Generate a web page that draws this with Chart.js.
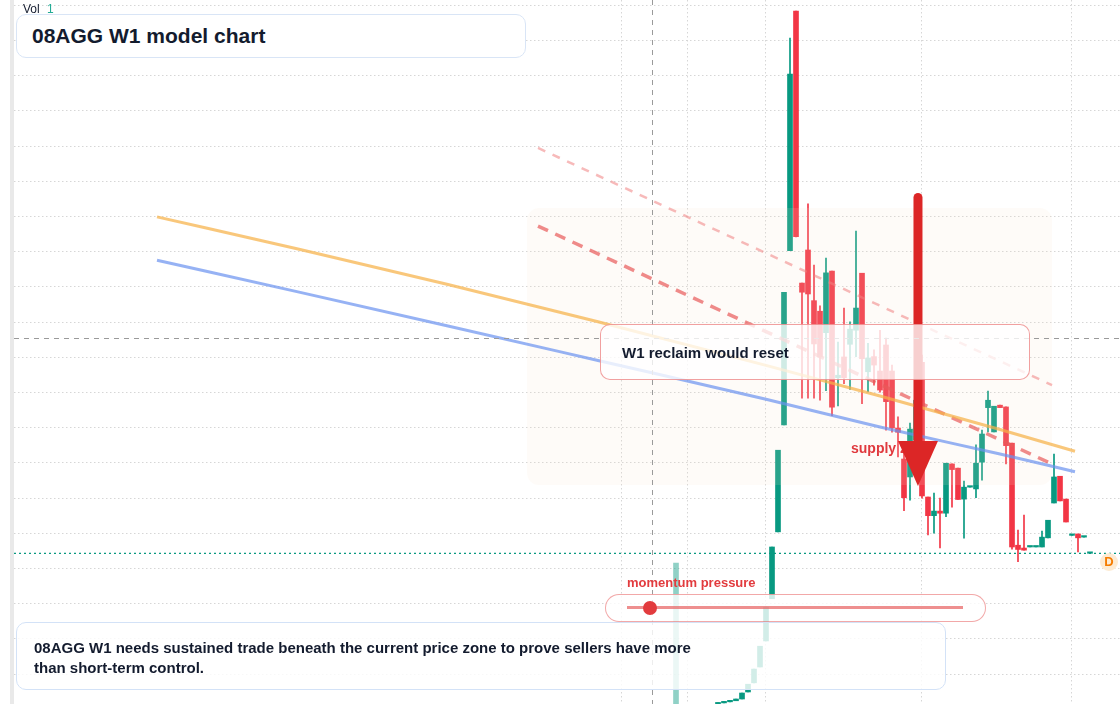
<!DOCTYPE html>
<html>
<head>
<meta charset="utf-8">
<title>08AGG W1 model chart</title>
<script src="https://cdn.jsdelivr.net/npm/chart.js@4.4.1/dist/chart.umd.min.js"></script>
<style>
    html, body { margin: 0; padding: 0; background: #fff; }
    body {
        width: 1120px; height: 704px; overflow: hidden; position: relative;
        font-family: "Liberation Sans", Arial, sans-serif; color: #131b2e;
    }
    #chart { position: absolute; left: 0; top: 0; }
    .strip { position: absolute; left: 10px; top: 0; width: 4px; height: 704px; background: #e9e9e9; }
    .abs { position: absolute; white-space: nowrap; }
    .card { position: absolute; box-sizing: border-box; border-radius: 10px; }
    .title-card { left: 16px; top: 14px; width: 510px; height: 44px; background: #fff; border: 1.5px solid #d9e5f6; }
    .note-card { left: 16px; top: 622px; width: 930px; height: 68px; background: rgba(255,255,255,0.82); border: 1.5px solid #d3e2f7; }
    .reclaim-card { left: 600px; top: 324px; width: 430px; height: 56px; background: rgba(255,255,255,0.78); border: 1.5px solid rgba(232,96,96,0.6); }
    .pill { left: 605px; top: 594px; width: 381px; height: 28px; border-radius: 14px; background: rgba(255,255,255,0.8); border: 1.5px solid rgba(232,96,96,0.55); }
    .pill-track { position: absolute; left: 627px; top: 606px; width: 336px; height: 3px; background: rgba(232,100,100,0.72); }
    .pill-dot { position: absolute; left: 643px; top: 601px; width: 14px; height: 14px; border-radius: 50%; background: #e23b3e; }
    .badge { position: absolute; left: 1100px; top: 553px; width: 18px; height: 18px; border-radius: 50%; background: #fdebd3;
             color: #f57c00; font-weight: bold; font-size: 13px; line-height: 18px; text-align: center; }
</style>
</head>
<body>
<div class="strip"></div>
<canvas id="chart" width="1120" height="704"></canvas>

<div class="abs" style="left:23px; top:1.5px; font-size:12px; line-height:14px;">Vol <span style="color:#22ab94; margin-left:4px;">1</span></div>
<div class="card title-card"></div>
<div class="abs" style="left:32px; top:24px; font-size:21px; line-height:24px; font-weight:bold;">08AGG W1 model chart</div>

<div class="card reclaim-card"></div>
<div class="abs" style="left:622px; top:343px; font-size:15px; line-height:20px; font-weight:bold;">W1 reclaim would reset</div>

<div class="abs" style="left:627px; top:575px; font-size:13px; line-height:16px; font-weight:bold; color:#e23b3e;">momentum pressure</div>
<div class="card pill"></div>
<div class="pill-track"></div>
<div class="pill-dot"></div>

<div class="card note-card"></div>
<div class="abs" style="left:34px; top:638px; font-size:15px; line-height:20px; font-weight:bold;">08AGG W1 needs sustained trade beneath the current price zone to prove sellers have more<br>than short-term control.</div>

<div class="badge">D</div>

<script>
// weekly candles, one per slot (slot 0 = first candle still on screen)
const candleOpen  = [0.15, 0.18, 0.21, 0.24, 0.29, 0.49, 0.75, 1.20, 1.94, 3.14, 5.04, 8.08, 13.03, 19.84, 12.11, 13.05,
    11.61, 11.31, 10.70, 12.45, 9.42, 10.01, 10.37, 10.77, 12.39, 9.59, 10.02, 9.61, 10.35, 9.61, 7.99, 7.11,
    6.60, 7.65, 9.86, 6.03, 5.50, 5.63, 5.57, 6.97, 6.85, 5.97, 6.31, 6.26, 7.02, 8.57, 7.88, 8.64,
    8.59, 7.56, 4.66, 4.58, 4.61, 4.61, 4.61, 4.87, 5.86, 6.62, 5.97, 4.94, 4.98, 4.89, 4.43];
const candleHigh  = [0.18, 0.21, 0.24, 0.29, 0.46, 0.71, 1.14, 1.79, 2.90, 4.61, 7.36, 11.85, 19.07, 19.84, 12.11, 14.36,
    12.62, 11.46, 12.82, 12.45, 10.43, 11.40, 11.01, 13.59, 12.39, 10.40, 10.21, 10.77, 10.55, 9.78, 8.31, 7.36,
    8.13, 9.07, 10.06, 6.03, 6.14, 6.00, 6.99, 6.97, 6.85, 6.48, 6.31, 7.51, 7.93, 9.04, 8.61, 8.64,
    8.59, 7.56, 5.09, 5.52, 4.61, 4.61, 5.06, 5.37, 7.25, 6.62, 5.97, 4.94, 4.98, 4.89, 4.43];
const candleLow   = [0.15, 0.18, 0.21, 0.24, 0.29, 0.49, 0.75, 1.20, 1.94, 3.14, 5.04, 8.08, 13.03, 13.42, 8.84, 8.84,
    8.84, 8.78, 9.05, 8.34, 8.62, 9.25, 9.09, 10.02, 8.68, 9.02, 9.21, 9.01, 7.93, 7.87, 7.17, 5.64,
    5.94, 7.51, 6.00, 4.95, 5.00, 4.58, 5.47, 5.74, 5.96, 4.86, 6.31, 6.01, 6.51, 7.88, 7.88, 8.57,
    6.97, 4.55, 4.19, 4.52, 4.61, 4.61, 4.61, 4.87, 5.86, 5.92, 5.32, 4.94, 4.47, 4.89, 4.43];
const candleClose = [0.18, 0.21, 0.24, 0.29, 0.46, 0.71, 1.14, 1.79, 2.90, 4.61, 7.36, 11.85, 18.05, 13.43, 11.85, 11.80,
    10.38, 10.01, 12.40, 8.58, 9.49, 9.42, 10.80, 11.40, 9.96, 9.98, 9.78, 9.07, 8.74, 7.99, 7.87, 6.01,
    7.96, 8.78, 6.06, 5.50, 5.63, 5.57, 6.99, 6.81, 5.96, 6.31, 6.31, 6.99, 7.82, 8.78, 8.61, 8.57,
    7.49, 4.61, 4.54, 4.52, 4.61, 4.61, 4.89, 5.37, 6.60, 5.92, 5.32, 4.94, 4.87, 4.89, 4.43];

// volume pane (only one bar is tall enough to show)
const volumeSlot  = [-7];
const volumeValue = [1];

// moving-average style guides
const guideSlots  = [-93.5, -70, -45, -20, 8, 27, 47, 59.5];
const orangeGuide = [13.99, 13.08, 12.07, 11.01, 9.77, 8.90, 7.95, 7.33];
const blueGuide   = [12.76, 11.86, 10.89, 9.91, 8.81, 8.02, 7.25, 6.75];

// dashed trend lines
const trendSlots  = [-30, 55.67];
const trendUpper  = [15.95, 9.21];
const trendLower  = [13.73, 6.97];

// scale ranges and grid
const slotMin = -117.333, slotMax = 67;
const priceMin = 0.148, priceMax = 20.154;
const priceGrid = [1, 2, 3, 4, 5, 6, 7, 8, 9, 10, 11, 12, 13, 14, 15, 16, 17, 18, 19, 20];
const timeGrid = [-16, -5, 8, 34, 59];

// annotations
const lastPrice = 4.43;
const crossSlot = -11.08, crossPrice = 10.55;
const zoneSlots = [-31.83, 55.67], zonePrices = [14.24, 6.37];
const arrowSlot = 33.33, arrowTop = 14.54, arrowBase = 7.62, arrowTip = 6.34, arrowHalf = 3.33;
const supplyLabel = { slot: 22.17, price: 7.28, text: 'supply zone' };

const GREEN = '#089981';
const RED = '#f23645';

const candleColors = candleOpen.map((o, i) => candleClose[i] >= o ? GREEN : RED);

const roundRect = (ctx, x, y, w, h, r) => {
    ctx.beginPath();
    ctx.moveTo(x + r, y);
    ctx.arcTo(x + w, y, x + w, y + h, r);
    ctx.arcTo(x + w, y + h, x, y + h, r);
    ctx.arcTo(x, y + h, x, y, r);
    ctx.arcTo(x, y, x + w, y, r);
    ctx.closePath();
};

const overlayPlugin = {
    id: 'overlay',
    beforeDatasetsDraw(chart) {
        const { ctx, chartArea: a, scales: { y } } = chart;
        const py = y.getPixelForValue(lastPrice);
        ctx.save();
        ctx.strokeStyle = GREEN;
        ctx.lineWidth = 1.3;
        ctx.setLineDash([2, 3]);
        ctx.beginPath();
        ctx.moveTo(a.left, py);
        ctx.lineTo(a.right, py);
        ctx.stroke();
        ctx.restore();
    },
    afterDatasetDraw(chart, args) {
        if (chart.data.datasets[args.index].label !== 'Candles') return;
        const { ctx, scales: { x, y } } = chart;
        const x1 = x.getPixelForValue(zoneSlots[0]), x2 = x.getPixelForValue(zoneSlots[1]);
        const y1 = y.getPixelForValue(zonePrices[0]), y2 = y.getPixelForValue(zonePrices[1]);
        ctx.save();
        ctx.fillStyle = 'rgba(245,225,205,0.14)';
        roundRect(ctx, x1, y1, x2 - x1, y2 - y1, 12);
        ctx.fill();
        ctx.restore();
    },
    afterDatasetsDraw(chart) {
        const { ctx, chartArea: a, scales: { x, y } } = chart;
        ctx.save();

        // label sits under the arrow head
        ctx.font = 'bold 14px "Liberation Sans", Arial, sans-serif';
        ctx.fillStyle = '#e0393e';
        ctx.fillText(supplyLabel.text, x.getPixelForValue(supplyLabel.slot), y.getPixelForValue(supplyLabel.price));

        // arrow
        const ax = x.getPixelForValue(arrowSlot);
        const half = x.getPixelForValue(arrowSlot + arrowHalf) - ax;
        ctx.strokeStyle = '#dc2626';
        ctx.fillStyle = '#dc2626';
        ctx.lineWidth = 9;
        ctx.lineCap = 'round';
        ctx.beginPath();
        ctx.moveTo(ax, y.getPixelForValue(arrowTop));
        ctx.lineTo(ax, y.getPixelForValue(arrowBase) + 2);
        ctx.stroke();
        ctx.beginPath();
        ctx.moveTo(ax - half, y.getPixelForValue(arrowBase));
        ctx.lineTo(ax + half, y.getPixelForValue(arrowBase));
        ctx.lineTo(ax, y.getPixelForValue(arrowTip));
        ctx.closePath();
        ctx.fill();

        // crosshair
        ctx.strokeStyle = '#9a9a9a';
        ctx.lineWidth = 1;
        ctx.lineCap = 'butt';
        ctx.setLineDash([5, 5]);
        const cy = Math.round(y.getPixelForValue(crossPrice)) + 0.5;
        const cx = Math.round(x.getPixelForValue(crossSlot)) + 0.5;
        ctx.beginPath();
        ctx.moveTo(a.left, cy);
        ctx.lineTo(a.right, cy);
        ctx.moveTo(cx, a.top);
        ctx.lineTo(cx, a.bottom);
        ctx.stroke();
        ctx.restore();
    }
};

const gridStyle = { color: '#d6d6d6', lineWidth: 1, drawTicks: false, offset: false };
const gridBorder = { display: false, dash: [1.5, 2.5] };

new Chart(document.getElementById('chart'), {
    type: 'bar',
    data: {
        datasets: [
            {
                type: 'line', label: 'Guide orange', order: 3,
                data: guideSlots.map((s, i) => ({ x: s, y: orangeGuide[i] })),
                borderColor: 'rgba(247,178,72,0.72)', borderWidth: 3, pointRadius: 0,
                cubicInterpolationMode: 'monotone', yAxisID: 'y'
            },
            {
                type: 'line', label: 'Guide blue', order: 4,
                data: guideSlots.map((s, i) => ({ x: s, y: blueGuide[i] })),
                borderColor: 'rgba(105,145,240,0.7)', borderWidth: 3, pointRadius: 0,
                cubicInterpolationMode: 'monotone', yAxisID: 'y'
            },
            {
                type: 'line', label: 'Trend lower', order: 5,
                data: trendSlots.map((s, i) => ({ x: s, y: trendLower[i] })),
                borderColor: 'rgba(232,90,90,0.7)', borderWidth: 3.5, borderDash: [11, 8], pointRadius: 0,
                yAxisID: 'y'
            },
            {
                type: 'line', label: 'Trend upper', order: 6,
                data: trendSlots.map((s, i) => ({ x: s, y: trendUpper[i] })),
                borderColor: 'rgba(240,130,130,0.55)', borderWidth: 2.5, borderDash: [8, 8], pointRadius: 0,
                yAxisID: 'y'
            },
            {
                label: 'Candles', order: 8,
                data: candleOpen.map((o, i) => ({ x: i, y: [o, candleClose[i]] })),
                backgroundColor: candleColors, barThickness: 5, minBarLength: 1.5,
                grouped: false, yAxisID: 'y'
            },
            {
                label: 'Wicks', order: 9,
                data: candleLow.map((l, i) => ({ x: i, y: [l, candleHigh[i]] })),
                backgroundColor: candleColors, barThickness: 1,
                grouped: false, yAxisID: 'y'
            },
            {
                label: 'Volume', order: 10,
                data: volumeSlot.map((s, i) => ({ x: s, y: volumeValue[i] })),
                backgroundColor: 'rgba(8,153,129,0.45)', barThickness: 5,
                grouped: false, yAxisID: 'y2'
            }
        ]
    },
    options: {
        responsive: false,
        animation: false,
        devicePixelRatio: 1,
        layout: { padding: { left: 14, right: 0, top: 0, bottom: 0 } },
        plugins: { legend: { display: false }, tooltip: { enabled: false } },
        scales: {
            x: {
                type: 'linear', min: slotMin, max: slotMax, offset: false,
                grid: gridStyle, border: gridBorder, ticks: { display: false },
                afterBuildTicks: s => { s.ticks = timeGrid.map(v => ({ value: v })); }
            },
            y: {
                type: 'linear', position: 'left', min: priceMin, max: priceMax,
                grid: gridStyle, border: gridBorder, ticks: { display: false },
                afterBuildTicks: s => { s.ticks = priceGrid.map(v => ({ value: v })); }
            },
            y2: { type: 'linear', display: false, min: 0, max: 5 }
        }
    },
    plugins: [overlayPlugin]
});
</script>
</body>
</html>
